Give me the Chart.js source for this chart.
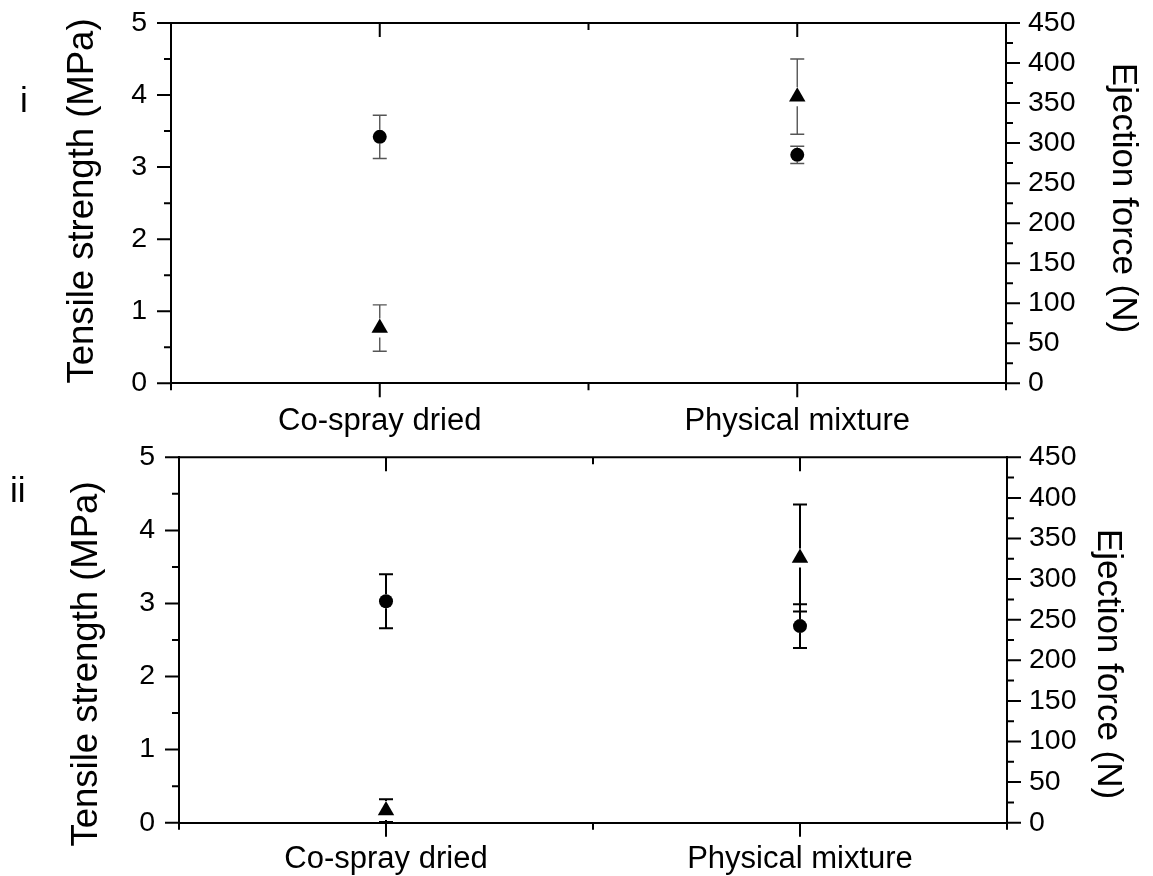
<!DOCTYPE html>
<html>
<head>
<meta charset="utf-8">
<script src="https://cdn.jsdelivr.net/npm/chart.js@4.4.1/dist/chart.umd.min.js"></script>
<style>
  html, body { margin: 0; padding: 0; background: #fff; }
  #wrap { position: relative; width: 1153px; height: 876px; }
  #wrap canvas { position: absolute; left: 0; }
</style>
</head>
<body>
<div id="wrap">
  <canvas id="panelI" width="1153" height="438" style="top:0"></canvas>
  <canvas id="panelII" width="1153" height="438" style="top:438px"></canvas>
</div>
<script>
// Formulations on the x axis (placed at 1 and 3 on a 0–4 axis)
const categories = ['Co-spray dried', 'Physical mixture'];

// Axis tick values
const tensileTicks = [0, 1, 2, 3, 4, 5];
const ejectionTicks = [0, 50, 100, 150, 200, 250, 300, 350, 400, 450];
const categoryTicks = [0, 1, 2, 3, 4];

// Panel i: tensile strength (MPa) and ejection force (N), mean and SD
const tensileI = [3.42, 3.17];
const tensileIErr = [0.30, 0.12];
const ejectionI = [69, 358];
const ejectionIErr = [29, 47];

// Panel ii
const tensileII = [3.03, 2.69];
const tensileIIErr = [0.37, 0.30];
const ejectionII = [15, 326];
const ejectionIIErr = [14, 66];

const FONT = '"Liberation Sans", Arial, Helvetica, sans-serif';
Chart.defaults.font.family = FONT;
Chart.defaults.color = '#000';

const toPoints = (vals) => vals.map((v, i) => ({ x: 2 * i + 1, y: v }));

// Vertical error bars with caps; the stem is left open inside the marker
const errorBars = {
  id: 'errorBars',
  beforeDatasetsDraw(chart, args, opts) {
    const ctx = chart.ctx;
    chart.data.datasets.forEach((ds, i) => {
      if (!ds.errors) return;
      const meta = chart.getDatasetMeta(i);
      const ys = chart.scales[ds.yAxisID];
      ctx.save();
      ctx.strokeStyle = opts.color;
      ctx.lineWidth = opts.width;
      meta.data.forEach((pt, j) => {
        const v = ds.data[j].y, e = ds.errors[j];
        const x = pt.x, yc = pt.y;
        const yHi = ys.getPixelForValue(v + e);
        const yLo = ys.getPixelForValue(v - e);
        const r = ds.pointRadius;
        ctx.beginPath();
        if (yc - r > yHi) { ctx.moveTo(x, yc - r); ctx.lineTo(x, yHi); }
        if (yLo > yc + r) { ctx.moveTo(x, yc + r); ctx.lineTo(x, yLo); }
        ctx.moveTo(x - opts.cap, yHi); ctx.lineTo(x + opts.cap, yHi);
        ctx.moveTo(x - opts.cap, yLo); ctx.lineTo(x + opts.cap, yLo);
        ctx.stroke();
      });
      ctx.restore();
    });
  }
};

// Closed frame with major/minor tick marks
const frameTicks = {
  id: 'frameTicks',
  afterDraw(chart, args, opts) {
    const { ctx, chartArea: a, scales } = chart;
    const major = opts.major, minor = opts.minor;
    ctx.save();
    ctx.strokeStyle = '#000';
    ctx.lineWidth = 2;
    ctx.beginPath();
    ctx.moveTo(a.left - 1, a.top); ctx.lineTo(a.right + 1, a.top);
    scales.x.ticks.forEach(t => {
      const px = scales.x.getPixelForValue(t.value);
      const len = t.value % 2 === 1 ? major : minor;
      ctx.moveTo(px, a.bottom); ctx.lineTo(px, a.bottom + len);
      ctx.moveTo(px, a.top); ctx.lineTo(px, a.top + len);
    });
    const sideTicks = (scale, dir) => {
      const edge = dir < 0 ? a.left : a.right;
      const vals = scale.ticks.map(t => t.value);
      vals.forEach((v, k) => {
        const py = scale.getPixelForValue(v);
        ctx.moveTo(edge, py); ctx.lineTo(edge + dir * major, py);
        if (k < vals.length - 1) {
          const pm = scale.getPixelForValue((v + vals[k + 1]) / 2);
          ctx.moveTo(edge, pm); ctx.lineTo(edge + dir * minor, pm);
        }
      });
    };
    sideTicks(scales.y, -1);
    sideTicks(scales.y1, 1);
    ctx.stroke();
    ctx.restore();
  }
};

// Axis titles and panel label
const panelText = {
  id: 'panelText',
  afterDraw(chart, args, o) {
    const ctx = chart.ctx;
    ctx.save();
    ctx.fillStyle = '#000';
    ctx.textAlign = 'center';
    ctx.textBaseline = 'alphabetic';
    ctx.font = `${o.leftSize}px ${FONT}`;
    ctx.translate(o.leftX, o.leftY);
    ctx.rotate(-Math.PI / 2);
    ctx.fillText(o.leftTitle, 0, 0);
    ctx.restore();

    ctx.save();
    ctx.fillStyle = '#000';
    ctx.textAlign = 'center';
    ctx.textBaseline = 'alphabetic';
    ctx.font = `${o.rightSize}px ${FONT}`;
    ctx.translate(o.rightX, o.rightY);
    ctx.rotate(Math.PI / 2);
    ctx.fillText(o.rightTitle, 0, 0);
    ctx.restore();

    ctx.save();
    ctx.fillStyle = '#000';
    ctx.textAlign = 'left';
    ctx.textBaseline = 'alphabetic';
    ctx.font = `${o.labelSize}px ${FONT}`;
    ctx.fillText(o.label, o.labelX, o.labelY);
    ctx.restore();
  }
};

// Fixed axis box sizes; label overhang is not allowed to move the plot area
const fixVertical = (w) => (s) => { s.width = w; s.paddingTop = 0; s.paddingBottom = 0; };

function buildPanel(id, tensile, tensileErr, ejection, ejectionErr, lay) {
  const H = 438, W = 1153;
  return new Chart(document.getElementById(id), {
    type: 'scatter',
    data: {
      datasets: [
        {
          label: 'Tensile strength',
          data: toPoints(tensile),
          errors: tensileErr,
          yAxisID: 'y',
          pointStyle: 'circle',
          pointRadius: 7,
          pointBackgroundColor: '#000',
          pointBorderColor: '#000',
          pointBorderWidth: 0
        },
        {
          label: 'Ejection force',
          data: toPoints(ejection),
          errors: ejectionErr,
          yAxisID: 'y1',
          pointStyle: 'triangle',
          pointRadius: 9.5,
          pointBackgroundColor: '#000',
          pointBorderColor: '#000',
          pointBorderWidth: 0
        }
      ]
    },
    options: {
      responsive: false,
      animation: false,
      devicePixelRatio: 1,
      layout: { padding: { top: lay.top, left: 0, right: 0, bottom: 0 } },
      plugins: {
        legend: { display: false },
        tooltip: { enabled: false },
        errorBars: { color: lay.barColor, width: lay.barWidth, cap: 7 },
        frameTicks: { major: 14, minor: 7 },
        panelText: lay.text
      },
      scales: {
        x: {
          type: 'linear',
          position: 'bottom',
          min: 0, max: 4,
          afterBuildTicks: s => { s.ticks = categoryTicks.map(v => ({ value: v })); },
          afterFit: s => { s.height = H - lay.bottom; s.paddingLeft = 0; s.paddingRight = 0; },
          grid: { display: true, drawOnChartArea: false, drawTicks: false },
          border: { display: true, color: '#000', width: 2 },
          ticks: {
            autoSkip: false,
            maxRotation: 0,
            padding: lay.xPad,
            font: { size: 31 },
            color: '#000',
            callback: v => (v % 2 === 1 ? categories[(v - 1) / 2] : '')
          }
        },
        y: {
          type: 'linear',
          position: 'left',
          min: 0, max: 5,
          afterBuildTicks: s => { s.ticks = tensileTicks.map(v => ({ value: v })); },
          afterFit: fixVertical(lay.left),
          grid: { display: true, drawOnChartArea: false, drawTicks: false },
          border: { display: true, color: '#000', width: 2 },
          ticks: { padding: 24, font: { size: 28.5 }, color: '#000' }
        },
        y1: {
          type: 'linear',
          position: 'right',
          min: 0, max: 450,
          afterBuildTicks: s => { s.ticks = ejectionTicks.map(v => ({ value: v })); },
          afterFit: fixVertical(W - lay.right),
          grid: { display: true, drawOnChartArea: false, drawTicks: false },
          border: { display: true, color: '#000', width: 2 },
          ticks: { padding: 22, font: { size: 28.5 }, color: '#000' }
        }
      }
    },
    plugins: [errorBars, frameTicks, panelText]
  });
}

buildPanel('panelI', tensileI, tensileIErr, ejectionI, ejectionIErr, {
  top: 23, bottom: 383.3, left: 171, right: 1006, xPad: 20,
  barColor: '#555', barWidth: 1.4,
  text: {
    leftTitle: 'Tensile strength (MPa)', leftSize: 36.5, leftX: 93, leftY: 201,
    rightTitle: 'Ejection force (N)', rightSize: 35, rightX: 1113, rightY: 198,
    label: 'i', labelSize: 35, labelX: 20, labelY: 112
  }
});

buildPanel('panelII', tensileII, tensileIIErr, ejectionII, ejectionIIErr, {
  top: 19.3, bottom: 384.7, left: 179, right: 1007, xPad: 18,
  barColor: '#000', barWidth: 2,
  text: {
    leftTitle: 'Tensile strength (MPa)', leftSize: 36.5, leftX: 97, leftY: 226,
    rightTitle: 'Ejection force (N)', rightSize: 35, rightX: 1098, rightY: 226,
    label: 'ii', labelSize: 35, labelX: 10, labelY: 64
  }
});
</script>
</body>
</html>
